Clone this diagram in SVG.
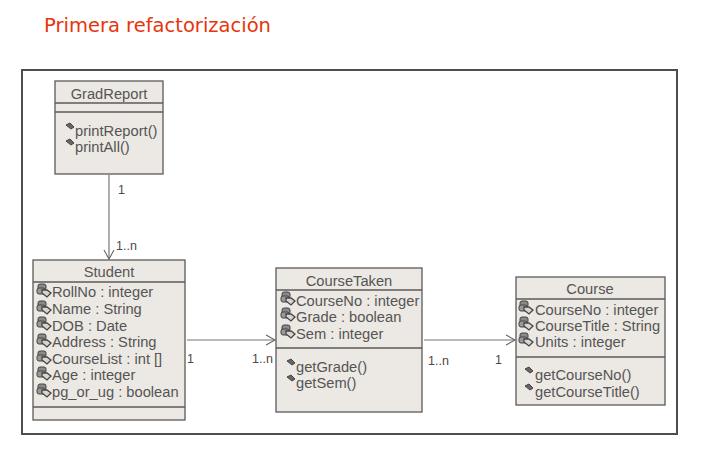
<svg xmlns="http://www.w3.org/2000/svg" width="713" height="456" viewBox="0 0 713 456">
<style>
.box{fill:#ece8e3;stroke:#5c5a58;stroke-width:1.3}
.div{stroke:#5c5a58;stroke-width:1.3;fill:none}
text{font-family:"Liberation Sans",Arial,sans-serif;font-size:14.7px;fill:#555}
.c{text-anchor:middle}
.conn{stroke:#777;stroke-width:1.2;fill:none;marker-end:url(#arr)}
.lbl{font-size:12.5px;fill:#4a4a4a}
.title{font-family:"DejaVu Sans",sans-serif;font-size:20px;fill:#e8340c}
</style>
<defs>
<marker id="arr" markerUnits="userSpaceOnUse" markerWidth="12" markerHeight="12" refX="10" refY="6" orient="auto"><path d="M1 1L10 6L1 11" fill="none" stroke="#666" stroke-width="1.1"/></marker>
<g id="attr"><rect x="-6" y="-12" width="8" height="6" rx="2" fill="#8a8a8a" stroke="#444" stroke-width="1"/><rect x="-7" y="-8" width="8" height="6" rx="2" fill="#999" stroke="#444" stroke-width="1"/><path d="M-2 -6L3 -6L7 -3L3 1L-2 -3Z" fill="#d8d4d0" stroke="#444" stroke-width="1.3"/></g>
<g id="op"><path d="M-4 -9L0 -11L4 -7L1 -5Z" fill="#666" stroke="#444" stroke-width="1"/></g>
</defs>
<rect width="713" height="456" fill="#fff"/>
<text class="title" x="44" y="32" textLength="227" lengthAdjust="spacingAndGlyphs">Primera refactorización</text>
<rect x="22" y="70" width="655" height="364" fill="#fff" stroke="#4d4d4d" stroke-width="2"/>
<g id="connectors">
<path class="conn" d="M109 175V259"/>
<path class="conn" d="M187 340H275"/>
<path class="conn" d="M424 340H515"/>
<text class="lbl" x="118" y="194">1</text>
<text class="lbl" x="116" y="250">1..n</text>
<text class="lbl" x="187" y="363">1</text>
<text class="lbl" x="252" y="363">1..n</text>
<text class="lbl" x="428" y="365">1..n</text>
<text class="lbl" x="495" y="364">1</text>
</g>
<g id="GradReport">
<rect class="box" x="55" y="81" width="108" height="93"/>
<path class="div" d="M55 103H163M55 112H163"/>
<text class="c" x="109" y="99">GradReport</text>
<use href="#op" x="70" y="134"/><text x="75" y="136">printReport()</text>
<use href="#op" x="70" y="150"/><text x="75" y="152">printAll()</text>
</g>
<g id="Student">
<rect class="box" x="33" y="260" width="152" height="160"/>
<path class="div" d="M33 282H185M33 407H185"/>
<text class="c" x="109" y="277">Student</text>
<use href="#attr" x="44" y="296"/><text x="52" y="297">RollNo : integer</text>
<use href="#attr" x="44" y="313"/><text x="52" y="314">Name : String</text>
<use href="#attr" x="44" y="329"/><text x="52" y="331">DOB : Date</text>
<use href="#attr" x="44" y="346"/><text x="52" y="347">Address : String</text>
<use href="#attr" x="44" y="363"/><text x="52" y="364">CourseList : int []</text>
<use href="#attr" x="44" y="379"/><text x="52" y="380">Age : integer</text>
<use href="#attr" x="44" y="396"/><text x="52" y="397">pg_or_ug : boolean</text>
</g>
<g id="CourseTaken">
<rect class="box" x="276" y="268" width="146" height="144"/>
<path class="div" d="M276 290H422M276 348H422"/>
<text class="c" x="349" y="286">CourseTaken</text>
<use href="#attr" x="288" y="304"/><text x="296" y="306">CourseNo : integer</text>
<use href="#attr" x="288" y="320"/><text x="296" y="322">Grade : boolean</text>
<use href="#attr" x="288" y="337"/><text x="296" y="339">Sem : integer</text>
<use href="#op" x="291" y="370"/><text x="296" y="372">getGrade()</text>
<use href="#op" x="291" y="386"/><text x="296" y="388">getSem()</text>
</g>
<g id="Course">
<rect class="box" x="516" y="277" width="149" height="128"/>
<path class="div" d="M516 299H665M516 357H665"/>
<text class="c" x="590" y="294">Course</text>
<use href="#attr" x="526" y="313"/><text x="535" y="315">CourseNo : integer</text>
<use href="#attr" x="526" y="329"/><text x="535" y="331">CourseTitle : String</text>
<use href="#attr" x="526" y="345"/><text x="535" y="347">Units : integer</text>
<use href="#op" x="529" y="378"/><text x="535" y="380">getCourseNo()</text>
<use href="#op" x="529" y="395"/><text x="535" y="397">getCourseTitle()</text>
</g>
</svg>
